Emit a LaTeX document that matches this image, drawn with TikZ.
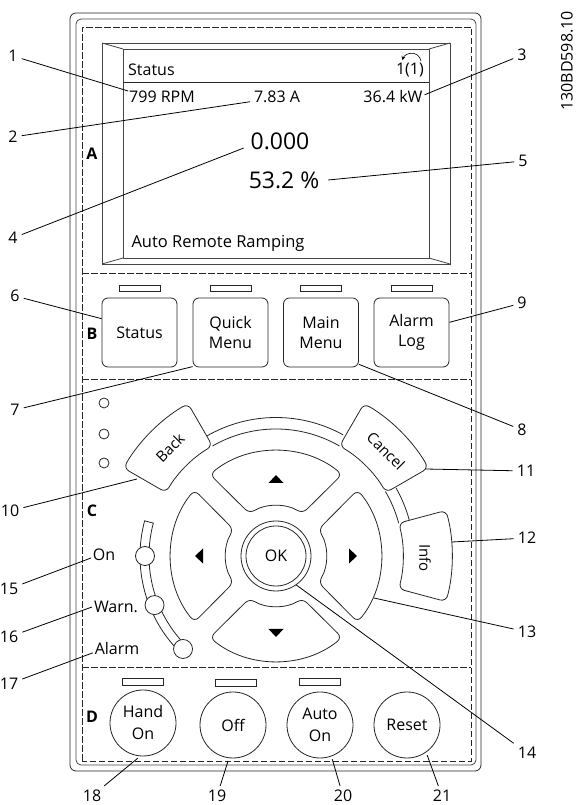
\documentclass[tikz,border=0pt]{standalone}
\usepackage{fontspec}
\setmainfont{Open Sans}
\usepackage{tikz}
\usetikzlibrary{arrows.meta}
\definecolor{framegray}{RGB}{70,70,70}
\tikzset{
    lineart/.style={line width=0.8pt, black!85},
    dashline/.style={line width=0.7pt, black!85, dash pattern=on 6.5pt off 2.5pt},
    txt/.style={font=\fontsize{16}{20}\selectfont, inner sep=0pt},
    bigtxt/.style={font=\fontsize{23}{26}\selectfont, inner sep=0pt},
    softkey/.style={draw, lineart, fill=white, rounded corners=6pt, minimum width=75pt, minimum height=69pt,
      inner sep=0pt, align=center, text=black, font=\fontsize{16}{20}\selectfont},
    roundkey/.style={draw, lineart, fill=white, circle, minimum size=66pt, inner sep=0pt, align=center,
      text=black, font=\fontsize{16}{22}\selectfont},
    ledbar/.style={draw, lineart, fill=white, minimum width=41pt, minimum height=6.5pt, inner sep=0pt},
    lamp/.style={draw, lineart, fill=white, circle, minimum size=10pt, inner sep=0pt},
    lamptwo/.style={draw, lineart, fill=white, circle, minimum size=19pt, inner sep=0pt},
    padkey/.style={lineart, fill=white, rounded corners=6pt},
    callout/.style={font=\fontsize{16}{20}\selectfont, inner sep=4pt},
    leadline/.style={line width=0.8pt, black},
    section/.style={font=\fontsize{16}{20}\selectfont\bfseries, inner sep=0pt},
}
\newcommand{\padsector}[6]{%
  (#1:#5pt) arc[start angle=#1, end angle=#2, radius=#5pt]
  -- (#3:#6pt) arc[start angle=#3, end angle=#4, radius=#6pt] -- cycle}

\begin{document}
\begin{tikzpicture}[x=1pt,y=1pt]
  \useasboundingbox (0,0) rectangle (576,805);
  % Housing and dashed zones
  \draw[lineart, rounded corners=6pt] (70,34) rectangle (481,792);
  \draw[lineart, framegray, rounded corners=5pt] (76,40) rectangle (476,786);
  \draw[dashline] (82,44) rectangle (471,778);
  \foreach \y in {532,426,138}{
    \draw[dashline] (82,\y) -- (471,\y);
  }
  % Display
  \draw[lineart, framegray] (102,541) rectangle (450,762);
  \draw[lineart, framegray] (123,547) rectangle (429,756);
  \draw[lineart, framegray] (102,541) -- (123,547) (450,541) -- (429,547)
    (102,762) -- (123,756) (450,762) -- (429,756);
  \draw[lineart] (123,723) -- (429,723);
  \node[txt, anchor=west] (scrtitle) at (128,735) {Status};
  \node[txt, anchor=east] (scrpage) at (424,735) {1(1)};
  \draw[line width=0.6pt, -{Stealth[length=4pt,width=4pt]}] (421,744) arc[start angle=10, end angle=165, radius=9.5pt];
  \node[txt, outer sep=1pt] (rpm) at (162,708) {799 RPM};
  \node[txt, outer sep=4pt] (amps) at (277,708) {7.83 A};
  \node[txt, outer sep=2pt] (kw) at (393,708) {36.4 kW};
  \node[bigtxt, outer sep=7pt] (zero) at (280,664) {0.000};
  \node[bigtxt, outer sep=9pt] (pct) at (284,625) {53.2 \%};
  \node[font=\fontsize{16.5}{20}\selectfont, inner sep=0pt] (mode) at (218,562) {Auto Remote Ramping};
  % Soft keys with their LEDs
  \foreach \i/\x/\lbl in {status/139.5/Status, quick/230.5/Quick\\Menu, main/321/Main\\Menu, alarmlog/411.5/Alarm\\Log}{
    \node[softkey] (\i) at (\x,472.5) {\lbl};
    \node[ledbar] (led-\i) at (\x,516.5) {};
  }
  % Small lamps
  \foreach \i/\y in {1/402,2/371,3/342}{
    \node[lamp] (dot\i) at (104,\y) {};
  }
  % Navigation wheel
  \begin{scope}[shift={(276,249)}]
    \draw[lineart] (120:138.5pt) arc[start angle=120, end angle=61, radius=138.5pt];
    \draw[lineart] (120:127pt) arc[start angle=120, end angle=60, radius=127pt];
    \draw[lineart] (29.5:138pt) arc[start angle=29.5, end angle=15, radius=138pt];
    \draw[lineart] (30.5:127pt) arc[start angle=30.5, end angle=15, radius=127pt];
    \draw[padkey] \padsector{120}{150}{150}{120}{176}{127};
    \draw[padkey] \padsector{60}{30}{30}{60}{176}{127};
    \draw[padkey] \padsector{15}{-15}{-15}{15}{176}{127};
    \foreach \r in {0,90,180,270}{
      \begin{scope}[rotate=\r]
        \draw[padkey] \padsector{129}{51}{58}{122}{105}{50};
        \fill[black] (-7.5,73) -- (7.5,73) -- (0,81) -- cycle;
      \end{scope}
    }
    % Lamp strip
    \draw[lineart, fill=white] \padsector{165}{225}{225}{165}{136}{127};
    \node[lamptwo] (lampon) at (180:131pt) {};
    \node[lamptwo] (lampwarn) at (202:131pt) {};
    \node[lamptwo] (lampalarm) at (225:131.5pt) {};
  \end{scope}
  \node[font=\fontsize{15}{18}\selectfont, rotate=45, inner sep=0pt] (back) at (170,357) {Back};
  \node[font=\fontsize{15}{18}\selectfont, rotate=-45, inner sep=0pt] (cancel) at (386,354) {Cancel};
  \node[font=\fontsize{15}{18}\selectfont, rotate=-90, inner sep=0pt] (info) at (425,247) {Info};
  \node[draw, lineart, circle, minimum size=70pt, inner sep=0pt] (okring) at (276,249) {};
  \node[draw, lineart, circle, minimum size=60pt, inner sep=0pt, text=black, font=\fontsize{16}{20}\selectfont] (ok) at (276,249) {OK};
  \coordinate (backedge) at (137,326);
  \coordinate (canceledge) at (425,336);
  \coordinate (infoedge) at (452,263);
  \coordinate (rightedge) at (374,207);
  % Lamp labels
  \node[txt, outer sep=2pt] (on) at (104,250) {On};
  \node[txt, outer sep=2pt] (warn) at (116,198) {Warn.};
  \node[txt, outer sep=2pt] (alarm) at (117,156) {Alarm};
  % Zone letters
  \node[section] (za) at (92,651) {A};
  \node[section] (zb) at (92,471) {B};
  \node[section] (zc) at (92,294) {C};
  \node[section] (zd) at (92,88) {D};
  % Round keys
  \node[roundkey] (hand) at (143,82) {Hand\\On};
  \node[roundkey] (off) at (233,80) {Off};
  \node[roundkey] (auto) at (320,80) {Auto\\On};
  \node[roundkey] (reset) at (407,80) {Reset};
  \node[ledbar] (led-hand) at (142.5,123) {};
  \node[ledbar] (led-off) at (235.5,122) {};
  \node[ledbar] (led-auto) at (319.5,123) {};
  % Callouts
  \foreach \i/\x/\y/\tgt in {1/13/749/rpm.170, 2/13/668/amps.190, 3/522/750/kw.4, 4/13/567/zero.191,
      5/523/644/pct.east, 6/15/509/status.160, 7/15/395/quick.222, 8/522/375/main.320,
      9/522/502/alarmlog.15, 10/10/294/backedge, 11/526/334/canceledge, 12/527/267/infoedge,
      13/527/173/rightedge, 14/527/52/okring.305, 15/9/216/on.193, 16/9/168/warn.west, 17/9/121/alarm.189}{
    \node[callout] (n\i) at (\x,\y) {\i};
    \draw[leadline] (n\i) -- (\tgt);
  }
  \foreach \i/\x/\tgt in {18/92/hand.265, 19/217/off.263, 20/343/auto.290, 21/442/reset.305}{
    \node[callout] (n\i) at (\x,9) {\i};
    \draw[leadline, shorten >=3pt] (n\i) -- (\tgt);
  }
  \node[txt, rotate=90] (code) at (567,744) {130BD598.10};
\end{tikzpicture}
\end{document}
